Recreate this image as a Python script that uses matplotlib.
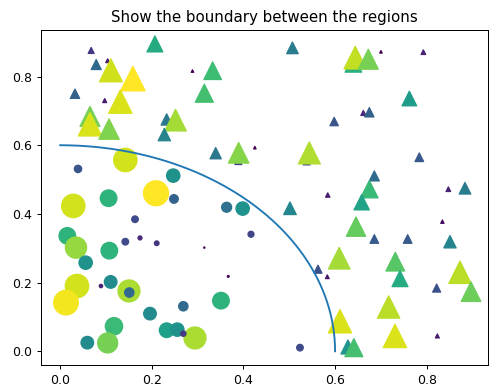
import numpy as np
import matplotlib
matplotlib.use("Agg")
import matplotlib.pyplot as plt

# point positions read off the picture, and the value that drives both
# marker area (value**2) and colour (value)
x = [0.207, 0.068, 0.104, 0.079, 0.111, 0.159, 0.289, 0.0327, 0.0975, 0.1316,
     0.0654, 0.0654, 0.107, 0.2327, 0.252, 0.2276, 0.333, 0.3148, 0.507, 0.598,
     0.640, 0.644, 0.6725, 0.700, 0.7925, 0.762, 0.6616, 0.6747, 0.3396, 0.389,
     0.3897, 0.425, 0.538, 0.5438, 0.584, 0.5016, 0.609, 0.5627, 0.7837, 0.6856,
     0.6747, 0.658, 0.847, 0.8833, 0.834, 0.6456, 0.6856, 0.7583, 0.8506, 0.7313,
     0.7416, 0.8724, 0.8964, 0.8215, 0.7168, 0.7306, 0.823, 0.628, 0.641, 0.583,
     0.6107,
     0.1425, 0.0393, 0.247, 0.2094, 0.029, 0.106, 0.2486, 0.1636, 0.016, 0.0349,
     0.1076, 0.1425, 0.1745, 0.211, 0.056, 0.3635, 0.3984, 0.4166, 0.3148, 0.367,
     0.3511, 0.2944, 0.5234, 0.0371, 0.0131, 0.0894, 0.1105, 0.1505, 0.1512, 0.1963,
     0.269, 0.1178, 0.104, 0.0596, 0.2327, 0.2559, 0.269]
y = [0.895, 0.876, 0.846, 0.835, 0.818, 0.794, 0.816, 0.750, 0.730, 0.727,
     0.684, 0.661, 0.647, 0.675, 0.673, 0.631, 0.817, 0.7515, 0.8835, 0.669,
     0.837, 0.855, 0.8505, 0.872, 0.871, 0.736, 0.694, 0.696, 0.5768, 0.554,
     0.578, 0.593, 0.553, 0.5776, 0.455, 0.4165, 0.271, 0.239, 0.565, 0.5106,
     0.472, 0.434, 0.472, 0.4748, 0.3775, 0.363, 0.327, 0.327, 0.319, 0.261,
     0.2115, 0.230, 0.1737, 0.184, 0.129, 0.0446, 0.0446, 0.0125, 0.0105, 0.217,
     0.0874,
     0.557, 0.531, 0.5115, 0.460, 0.4232, 0.4457, 0.4436, 0.3845, 0.336, 0.3018,
     0.293, 0.319, 0.330, 0.3146, 0.258, 0.4194, 0.4155, 0.3408, 0.3018, 0.218,
     0.1474, 0.0387, 0.0105, 0.190, 0.1416, 0.190, 0.2019, 0.1757, 0.171, 0.1096,
     0.131, 0.0728, 0.0242, 0.025, 0.0612, 0.063, 0.0513]
values = [12.8, 4.8, 3.0, 8.0, 18.4, 19.7, 2.0, 7.5, 3.2, 18.7,
          16.0, 18.7, 16.3, 9.0, 17.3, 9.9, 14.1, 14.4, 9.3, 6.7,
          13.3, 18.1, 16.0, 2.0, 3.7, 11.7, 4.0, 7.5, 9.0, 5.6,
          16.5, 2.0, 5.6, 17.6, 3.5, 10.1, 17.3, 6.4, 6.9, 8.0,
          13.9, 12.3, 3.7, 9.3, 2.7, 15.5, 6.9, 6.9, 9.9, 15.0,
          12.8, 17.9, 15.7, 6.4, 17.9, 18.7, 3.2, 11.2, 14.4, 3.0,
          18.7,
          18.7, 5.9, 10.7, 20.0, 18.7, 13.3, 6.9, 5.3, 13.3, 17.0,
          13.3, 5.3, 3.2, 3.7, 10.7, 8.0, 10.7, 4.8, 1.0, 1.5,
          13.3, 17.6, 5.3, 18.7, 19.7, 2.7, 10.1, 17.6, 7.5, 10.1,
          7.5, 13.9, 16.0, 10.1, 11.7, 10.7, 4.3]

r0 = 0.6

x = np.array(x)
y = np.array(y)
c = np.array(values)
area = c ** 2
r = np.sqrt(x ** 2 + y ** 2)
area1 = np.ma.masked_where(r < r0, area)
area2 = np.ma.masked_where(r >= r0, area)

fig = plt.figure(figsize=(500 / 90, 390 / 90), dpi=90)
ax = fig.add_axes([41 / 500, 25 / 390, 447 / 500, 335.5 / 390])

ax.scatter(x, y, s=area1, marker='^', c=c)
ax.scatter(x, y, s=area2, marker='o', c=c)

# boundary between the regions
theta = np.arange(0, np.pi / 2, 0.01)
ax.plot(r0 * np.cos(theta), r0 * np.sin(theta))

ax.set_xlim(-0.0414, 0.9335)
ax.set_ylim(-0.040, 0.937)
ax.set_title('Show the boundary between the regions')

fig.savefig('out.png', dpi=90)
